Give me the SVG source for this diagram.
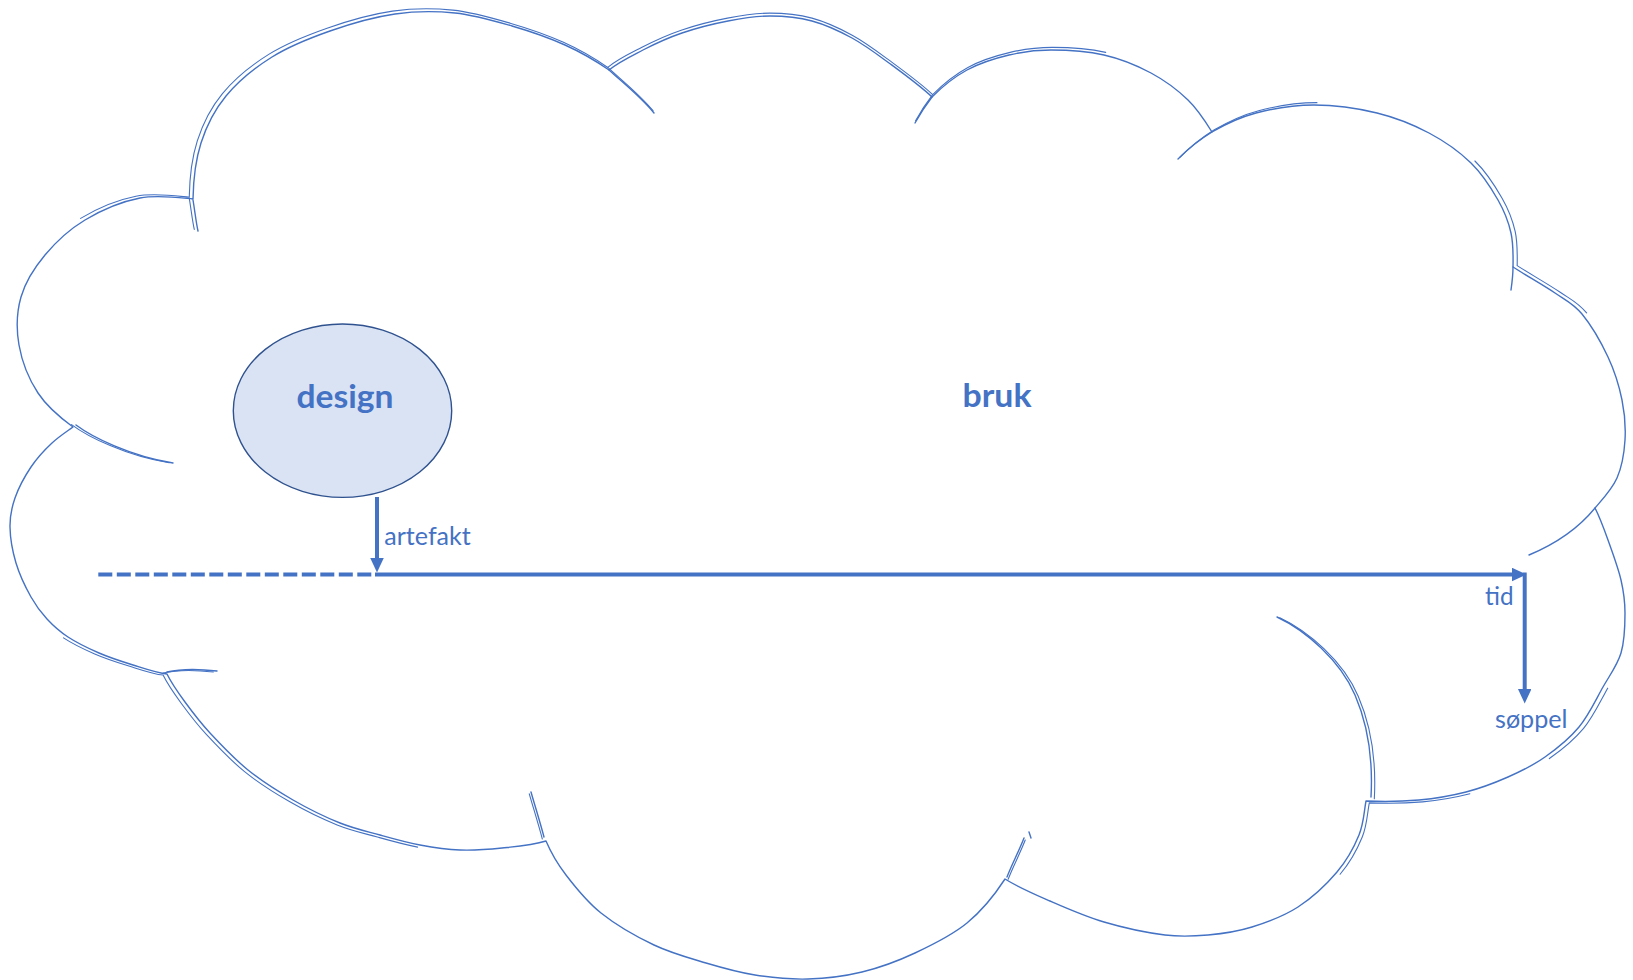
<svg xmlns="http://www.w3.org/2000/svg" width="1633" height="980" viewBox="0 0 1633 980">
  <style>
    .outline { fill: #ffffff; stroke: #4472C4; stroke-width: 1.4; stroke-linejoin: round; }
    .line { fill: none; stroke: #4472C4; stroke-width: 1.4; stroke-linecap: round; }
    .double { fill: none; stroke: #4472C4; stroke-width: 1.1; stroke-linecap: round; }
    .flow { fill: none; stroke: #4472C4; stroke-width: 4; }
    .label { font-family: Lato, "Liberation Sans", sans-serif; fill: #4472C4; font-size: 24.5px; }
    .title { font-family: Lato, "Liberation Sans", sans-serif; fill: #4472C4; font-size: 33px; font-weight: bold; }
  </style>
  <defs>
    <marker id="head" markerUnits="userSpaceOnUse" markerWidth="15" markerHeight="14" refX="0" refY="6.75" orient="auto">
      <path d="M0,0 L14.5,6.75 L0,13.5 Z" fill="#4472C4"/>
    </marker>
  </defs>

  <rect width="1633" height="980" fill="#ffffff"/>

  <!-- cloud: the "bruk" area -->
  <g id="cloud-bruk">
    <path class="outline" d="M73,427
      C61.8,418.8 47,406.7 38,393 C29,379.3 21.8,361 19,345 C16.2,329 16.7,312 21,297 C25.3,282 34.3,267.8 45,255
      C55.7,242.2 69.2,229.5 85,220 C100.8,210.5 122,201.5 140,198 C158,194.5 179.7,197.7 193,199
      C193.3,182.8 195.5,160.2 201,143 C206.5,125.8 214.2,110.3 226,96 C237.8,81.7 254.7,67.8 272,57
      C289.3,46.2 309.5,38.2 330,31 C350.5,23.8 374.2,17 395,14 C415.8,11 435.5,11 455,13
      C474.5,15 493.7,20.7 512,26 C530.3,31.3 548.8,37.7 565,45 C581.2,52.3 596.5,61.3 609,70
      C618.5,62 631,56.2 643,50 C655,43.8 667.8,37.8 682,33 C696.2,28.2 713.3,23.8 728,21
      C742.7,18.2 756,16 770,16 C784,16 798.3,17.3 812,21 C825.7,24.7 839.2,31 852,38
      C864.8,45 875.7,53.2 889,63 C902.3,72.8 920.2,85.8 932,97
      C940.7,88.2 954.2,77 967,70 C979.8,63 995,58.3 1009,55 C1023,51.7 1035.2,50 1051,50
      C1066.8,50 1087.3,51.2 1104,55 C1120.7,58.8 1137,65.5 1151,73 C1165,80.5 1177.8,90.2 1188,100
      C1198.2,109.8 1205.3,121.2 1212,132
      C1225.1,124.3 1239,117.5 1256,113 C1273,108.5 1293.8,105 1314,105 C1334.2,105 1357.8,108.3 1377,113
      C1396.2,117.7 1413.3,124.7 1429,133 C1444.7,141.3 1459.5,151.8 1471,163 C1482.5,174.2 1491.3,188.3 1498,200
      C1504.7,211.7 1508.5,221.8 1511,233 C1513.5,244.2 1513.2,255.8 1513,267
      C1525.8,275.3 1543.5,285.2 1555,293 C1566.5,300.8 1573.2,303.3 1582,314 C1590.8,324.7 1601.3,342.7 1608,357
      C1614.7,371.3 1619.2,386.2 1622,400 C1624.8,413.8 1625.8,427 1625,440 C1624.2,453 1622,466.7 1617,478
      C1612,489.3 1602.8,499 1595,508
      C1599.7,517.2 1603.7,528 1608,540 C1612.3,552 1618.2,567.8 1621,580 C1623.8,592.2 1625,600.8 1625,613
      C1625,625.2 1624.7,640.7 1621,653 C1617.3,665.3 1610,674.7 1603,687 C1596,699.3 1588.7,715.3 1579,727
      C1569.3,738.7 1556.8,748.7 1545,757 C1533.2,765.3 1521.2,771.2 1508,777 C1494.8,782.8 1480.8,788.2 1466,792
      C1451.2,795.8 1435.7,798.5 1419,800 C1402.3,801.5 1380.8,801.7 1366,801
      C1363.8,813 1363.8,823.2 1359,835 C1354.2,846.8 1347.2,860 1337,872 C1326.8,884 1312.2,897.8 1298,907
      C1283.8,916.2 1267,922.3 1252,927 C1237,931.7 1222.5,933.7 1208,935 C1193.5,936.3 1182.3,937.2 1165,935
      C1147.7,932.8 1123.2,927.7 1104,922 C1084.8,916.3 1066.5,908.2 1050,901 C1033.5,893.8 1018.7,887.5 1005,879
      C996.2,892.5 982,910.7 967,923 C952,935.3 932.5,944.8 915,953 C897.5,961.2 879.8,967.7 862,972
      C844.2,976.3 825.8,978.5 808,979 C790.2,979.5 772,977.7 755,975 C738,972.3 722.8,968 706,963
      C689.2,958 671.5,953.3 654,945 C636.5,936.7 615.7,924.7 601,913 C586.3,901.3 575.2,887 566,875
      C556.8,863 551.3,853.5 546,841
      C532.2,845.3 516.3,846.5 502,848 C487.7,849.5 473.7,850.5 460,850 C446.3,849.5 433.3,847.5 420,845
      C406.7,842.5 393.3,838.7 380,835 C366.7,831.3 354.5,828.8 340,823 C325.5,817.2 308.3,808.8 293,800
      C277.7,791.2 261.8,781.2 248,770 C234.2,758.8 220.5,744.3 210,733 C199.5,721.7 192.2,711.8 185,702
      C177.8,692.2 172,684.3 167,674
      C157,673 144.3,668.5 133,665 C121.7,661.5 109.8,657.7 99,653 C88.2,648.3 76.7,642.7 68,637
      C59.3,631.3 53.2,625.7 47,619 C40.8,612.3 36.2,606.3 31,597 C25.8,587.7 19.5,574.7 16,563
      C12.5,551.3 10.2,537.8 10,527 C9.8,516.2 11.5,508 15,498 C18.5,488 24.8,476.2 31,467
      C37.2,457.8 45,449.5 52,443 C59,436.5 65,432.7 73,427 Z"/>

    <!-- inner arcs where the lobes overlap -->
    <path class="line" d="M76,425 C92,437 130,456 173,463
      M193,200 C195,212 196,222 198,231
      M609,70 C622,82 640,96 654,113
      M932,97 C925,106 920,114 915,123
      M1212,132 C1199,140 1188,149 1178,159
      M1513,267 C1513,275 1512,283 1511,290
      M1595,508 C1582,524 1560,542 1529,555
      M1277,617 C1305,630 1340,660 1355,695 C1368,725 1373,760 1371,797
      M1007,877 C1012,864 1019,851 1024,838
      M1029,832 L1031,838
      M544,837 C540,822 535,806 531,792
      M167,672 C180,669 200,669 217,671"/>

    <!-- second, sketched stroke along parts of the outline -->
    <g transform="matrix(1.006 0 0 1.006 -4.908 -2.97)">
      <path class="double" d="M85,220 C100.8,210.5 122,201.5 140,198 C158,194.5 179.7,197.7 193,199
        C193.3,182.8 195.5,160.2 201,143 C206.5,125.8 214.2,110.3 226,96 C237.8,81.7 254.7,67.8 272,57
        C289.3,46.2 309.5,38.2 330,31 C350.5,23.8 374.2,17 395,14 C415.8,11 435.5,11 455,13
        C474.5,15 493.7,20.7 512,26 C530.3,31.3 548.8,37.7 565,45 C581.2,52.3 596.5,61.3 609,70
        C618.5,62 631,56.2 643,50 C655,43.8 667.8,37.8 682,33 C696.2,28.2 713.3,23.8 728,21
        C742.7,18.2 756,16 770,16 C784,16 798.3,17.3 812,21 C825.7,24.7 839.2,31 852,38
        C864.8,45 875.7,53.2 889,63 C902.3,72.8 920.2,85.8 932,97
        C940.7,88.2 954.2,77 967,70 C979.8,63 995,58.3 1009,55 C1023,51.7 1035.2,50 1051,50
        C1066.8,50 1087.3,51.2 1104,55
        M1212,132 C1225.1,124.3 1239,117.5 1256,113 C1273,108.5 1293.8,105 1314,105
        M1471,163 C1482.5,174.2 1491.3,188.3 1498,200 C1504.7,211.7 1508.5,221.8 1511,233
        C1513.5,244.2 1513.2,255.8 1513,267 C1525.8,275.3 1543.5,285.2 1555,293 C1566.5,300.8 1573.2,303.3 1582,314
        M1603,687 C1596,699.3 1588.7,715.3 1579,727 C1569.3,738.7 1556.8,748.7 1545,757
        M1466,792 C1451.2,795.8 1435.7,798.5 1419,800 C1402.3,801.5 1380.8,801.7 1366,801
        C1363.8,813 1363.8,823.2 1359,835 C1354.2,846.8 1347.2,860 1337,872
        M420,845 C406.7,842.5 393.3,838.7 380,835 C366.7,831.3 354.5,828.8 340,823 C325.5,817.2 308.3,808.8 293,800
        C277.7,791.2 261.8,781.2 248,770 C234.2,758.8 220.5,744.3 210,733 C199.5,721.7 192.2,711.8 185,702
        C177.8,692.2 172,684.3 167,674 C157,673 144.3,668.5 133,665 C121.7,661.5 109.8,657.7 99,653
        C88.2,648.3 76.7,642.7 68,637
        M76,425 C92,437 130,456 173,463
        M193,200 C195,212 196,222 198,231
        M609,70 C622,82 640,96 654,113
        M932,97 C925,106 920,114 915,123
        M1212,132 C1199,140 1188,149 1178,159
        M1277,617 C1305,630 1340,660 1355,695 C1368,725 1373,760 1371,797
        M1007,877 C1012,864 1019,851 1024,838
        M544,837 C540,822 535,806 531,792
        M167,672 C180,669 200,669 217,671"/>
    </g>

    <text class="title" x="962.5" y="406.7" textLength="69" lengthAdjust="spacingAndGlyphs">bruk</text>
  </g>

  <!-- design -->
  <g id="node-design">
    <ellipse cx="342.5" cy="410.7" rx="109.2" ry="86.7" fill="#DAE3F3" stroke="#2F528F" stroke-width="1.4"/>
    <text class="title" x="296.5" y="407.5" textLength="97" lengthAdjust="spacingAndGlyphs">design</text>
  </g>

  <!-- time line and flows -->
  <g id="connectors">
    <line class="flow" x1="98.3" y1="574.5" x2="371.5" y2="574.5" stroke-dasharray="14 4.5"/>
    <line class="flow" x1="377" y1="497" x2="377" y2="558" marker-end="url(#head)"/>
    <line class="flow" x1="375" y1="574.5" x2="1512" y2="574.5" marker-end="url(#head)"/>
    <line class="flow" x1="1524.7" y1="572.5" x2="1524.7" y2="689" marker-end="url(#head)"/>
    <text class="label" x="384.3" y="545" textLength="86.5" lengthAdjust="spacingAndGlyphs">artefakt</text>
    <text class="label" x="1485" y="604.5" textLength="28.5" lengthAdjust="spacingAndGlyphs">tid</text>
    <text class="label" x="1495" y="727.7" textLength="72.5" lengthAdjust="spacingAndGlyphs">søppel</text>
  </g>
</svg>
